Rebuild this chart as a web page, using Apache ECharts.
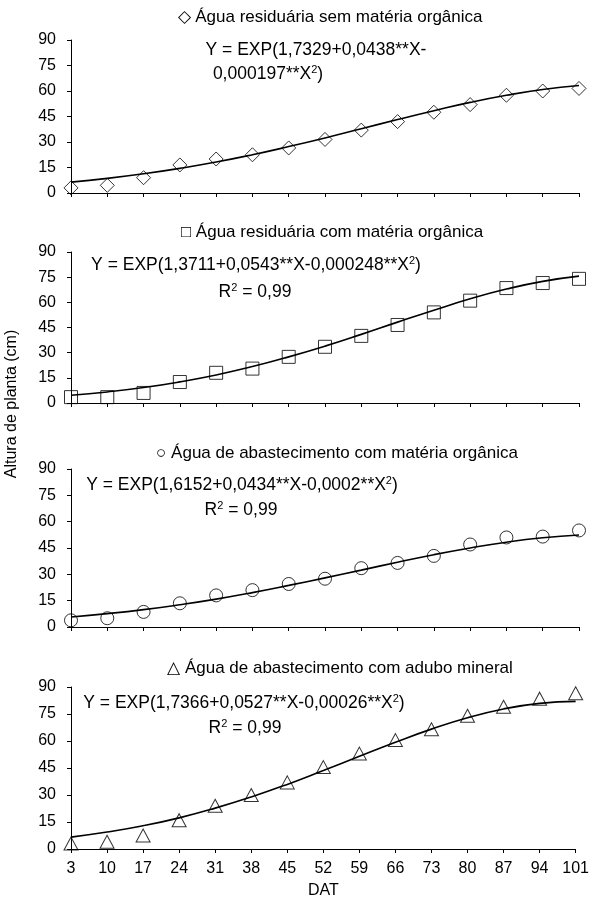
<!DOCTYPE html>
<html>
<head>
<meta charset="utf-8">
<script src="https://cdn.jsdelivr.net/npm/echarts@6/dist/echarts.min.js"></script>
<style>
html,body{margin:0;padding:0;background:#fff;}
#c{width:592px;height:909px;}
</style>
</head>
<body>
<div id="c"></div>
<script>
var categories = ['3','10','17','24','31','38','45','52','59','66','73','80','87','94','101'];
var yTicks = [0, 15, 30, 45, 60, 75, 90];

var obs1 = [3, 4.5, 9, 16.5, 20, 22.5, 26.5, 31.5, 37, 42, 47.5, 52, 57.5, 60, 61.5];
var fit1 = [6.4, 8.6, 11.3, 14.5, 18.2, 22.5, 27.3, 32.4, 37.8, 43.2, 48.4, 53.3, 57.5, 60.9, 63.2];
var obs2 = [3.5, 3.5, 6, 12.5, 18, 20.5, 27.5, 33.5, 40, 46.5, 54, 61, 68.5, 71.5, 74];
var fit2 = [4.6, 6.6, 9.2, 12.6, 16.7, 21.7, 27.5, 33.9, 40.9, 48.2, 55.3, 62.1, 67.9, 72.5, 75.6];
var obs3 = [3.8, 5, 8.6, 13.5, 18, 21, 24.5, 27.5, 33.5, 36.5, 40.5, 47, 51, 51.5, 55];
var fit3 = [5.7, 7.6, 9.9, 12.7, 15.9, 19.6, 23.7, 28, 32.4, 36.9, 41.2, 45, 48.3, 50.8, 52.4];
var obs4 = [3, 4, 7.5, 16, 24, 30, 37, 45.5, 53, 60.5, 66.5, 74, 79, 83.5, 86.5];
var fit4 = [6.6, 9.4, 12.9, 17.3, 22.7, 28.9, 35.9, 43.6, 51.5, 59.3, 66.6, 72.9, 77.8, 80.9, 82];

var titles = [
  '\u25C7 Água residuária sem matéria orgânica',
  '\u25A1 Água residuária com matéria orgânica',
  '\u25CB Água de abastecimento com matéria orgânica',
  '\u25B3 Água de abastecimento com adubo mineral'
];
var symbols = ['diamond', 'rect', 'circle', 'triangle'];
var FONT = '"Liberation Sans", Arial, sans-serif';

var obsList = [obs1, obs2, obs3, obs4];
var fitList = [fit1, fit2, fit3, fit4];
var grids = [
  {left: 71, right: 13, top: 40, height: 153},
  {left: 71, right: 13, top: 252, height: 151},
  {left: 71, right: 13, top: 469, height: 158},
  {left: 71, right: 13, top: 687, height: 162}
];

var xAxes = [], yAxes = [], series = [];
for (var i = 0; i < 4; i++) {
  var last = (i === 3);
  xAxes.push({
    type: 'category', gridIndex: i, data: categories, boundaryGap: false,
    axisLine: {show: true, lineStyle: {color: '#000', width: 1}},
    axisTick: {show: true, inside: false, length: 4, lineStyle: {color: '#000'}},
    axisLabel: {show: last, color: '#000', fontSize: 16, fontFamily: FONT, margin: 12},
    name: last ? 'DAT' : '', nameLocation: 'middle', nameGap: 34,
    nameTextStyle: {color: '#000', fontSize: 16, fontFamily: FONT},
    splitLine: {show: false}
  });
  yAxes.push({
    type: 'value', gridIndex: i, min: 0, max: 90, interval: 15,
    axisLine: {show: true, lineStyle: {color: '#000', width: 1}},
    axisTick: {show: true, inside: false, length: 4, lineStyle: {color: '#000'}},
    axisLabel: {color: '#000', fontSize: 16, fontFamily: FONT, margin: 15},
    splitLine: {show: false}
  });
  series.push({
    type: 'line', xAxisIndex: i, yAxisIndex: i, data: fitList[i],
    smooth: true, showSymbol: false, symbol: 'none',
    lineStyle: {color: '#000', width: 1.6}, z: 2, silent: true
  });
  series.push({
    type: 'scatter', xAxisIndex: i, yAxisIndex: i, data: obsList[i],
    symbol: symbols[i], symbolSize: symbols[i] === 'triangle' ? [14, 13] : (symbols[i] === 'diamond' ? 14 : 13),
    itemStyle: {color: 'rgba(255,255,255,0)', borderColor: '#000', borderWidth: 1},
    z: 3, silent: true
  });
}

function txt(s, cx, cy, size) {
  return {
    type: 'text', x: cx, y: cy, silent: true,
    style: {
      text: s, fill: '#000', fontSize: size, fontFamily: FONT,
      textAlign: 'center', textVerticalAlign: 'middle',
      rich: {
        sup: {fontSize: 11, fontFamily: FONT, fill: '#000', verticalAlign: 'top', lineHeight: 20}
      }
    }
  };
}

var graphics = [
  txt(titles[0], 330, 17, 17),
  txt(titles[1], 332, 232, 17),
  txt(titles[2], 337, 453, 17),
  txt(titles[3], 340, 668, 17),
  txt('Y = EXP(1,7329+0,0438**X-', 316, 50, 17.5),
  txt('0,000197**X{sup|2})', 268, 74, 17.5),
  txt('Y = EXP(1,3711+0,0543**X-0,000248**X{sup|2})', 256, 265, 17.5),
  txt('R{sup|2} = 0,99', 255, 292, 17.5),
  txt('Y = EXP(1,6152+0,0434**X-0,0002**X{sup|2})', 242, 485, 17.5),
  txt('R{sup|2} = 0,99', 241, 510, 17.5),
  txt('Y = EXP(1,7366+0,0527**X-0,00026**X{sup|2})', 244, 703, 17.5),
  txt('R{sup|2} = 0,99', 245, 728, 17.5),
  {
    type: 'text', x: 12, y: 404, rotation: Math.PI / 2, silent: true,
    style: {text: 'Altura de planta (cm)', fill: '#000', fontSize: 16, fontFamily: FONT,
      textAlign: 'center', textVerticalAlign: 'middle'}
  }
];

var chart = echarts.init(document.getElementById('c'), null, {renderer: 'canvas'});
chart.setOption({
  backgroundColor: '#fff',
  animation: false,
  grid: grids,
  xAxis: xAxes,
  yAxis: yAxes,
  series: series,
  graphic: graphics
});
</script>
</body>
</html>
